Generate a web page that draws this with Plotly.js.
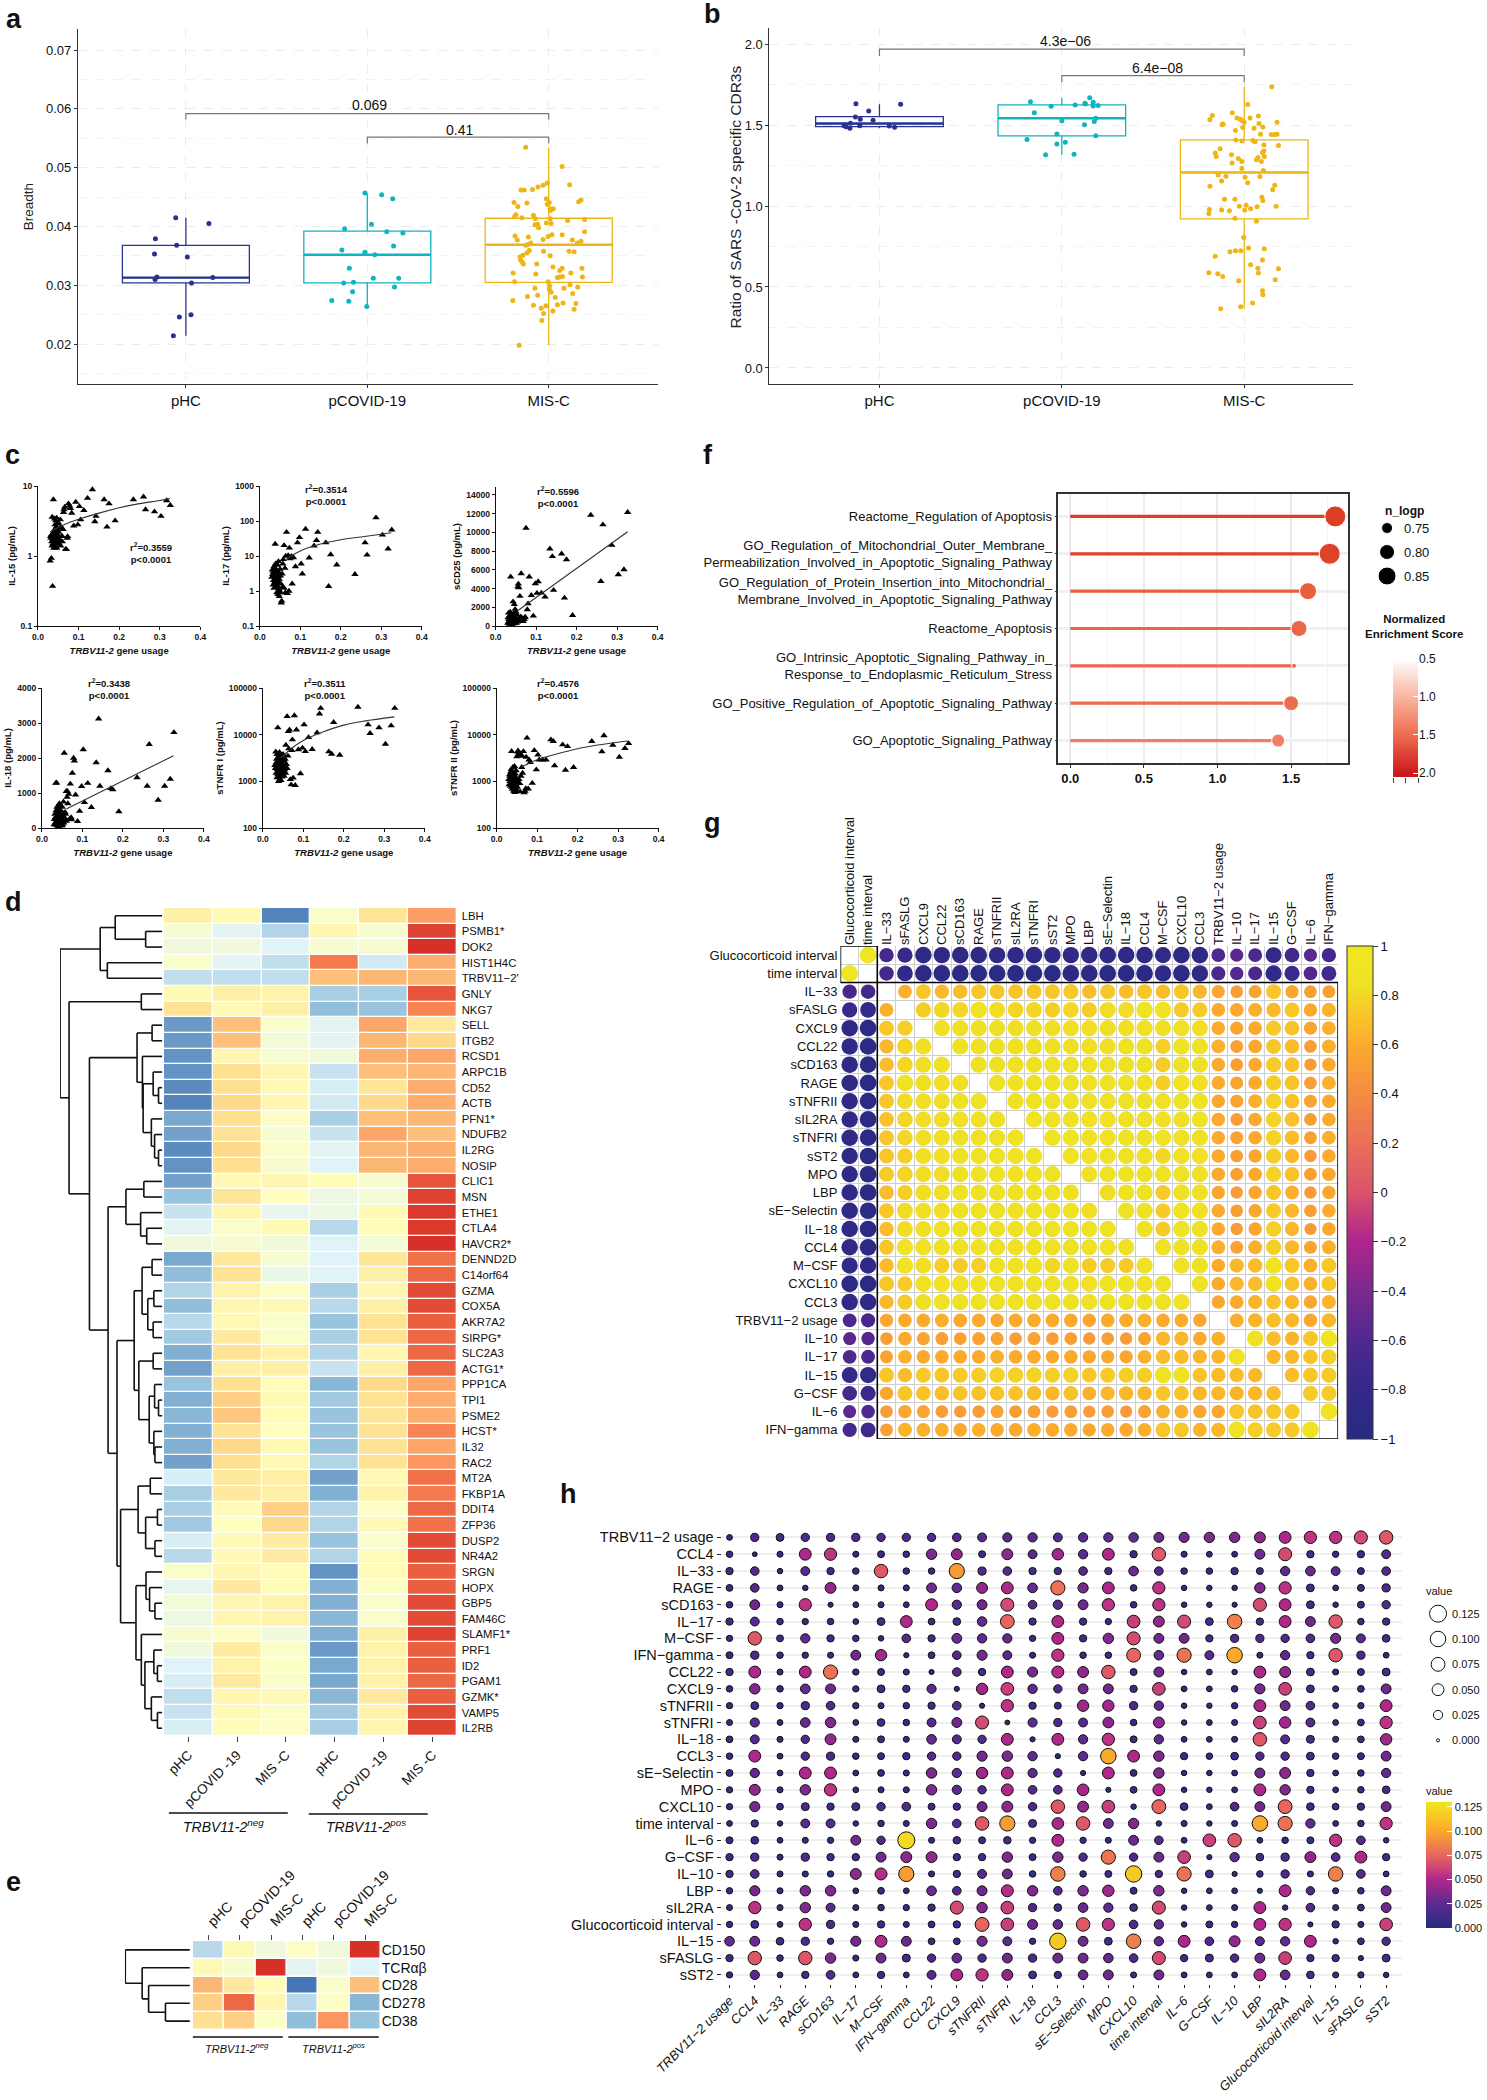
<!DOCTYPE html>
<html><head><meta charset="utf-8">
<script src="https://cdn.plot.ly/plotly-3.0.1.min.js"></script>
<style>html,body{margin:0;padding:0;background:#fff}</style></head>
<body><div id="chart" style="width:1487px;height:2100px"></div>
<script>
// ---------- Panels a, b ----------
const groups=['pHC','pCOVID-19','MIS-C'];
const groupColors=['#27338F','#10B4C0','#EDB515'];
const aBox={q1:[.0304,.0304,.0305],med:[.0313,.0352,.0369],q3:[.0368,.0392,.0414],lo:[.0214,.0264,.0198],hi:[.0415,.0456,.0535]};
const bBox={q1:[1.49,1.433,.921],med:[1.509,1.542,1.207],q3:[1.552,1.624,1.408],lo:[1.48,1.316,.366],hi:[1.628,1.669,1.737]};
const aJit0=[-.056,.127,-.168,-.051,-.173,.008,-.16,-.17,.148,.031,-.036,.028,-.069];
const aVal0=[.0415,.0405,.0379,.0368,.0353,.0348,.0314,.0310,.0313,.0304,.0246,.0250,.0214];
const aJit1=[-.013,.079,.140,.023,-.125,.107,.196,.145,-.140,-.013,.041,-.099,-.130,-.076,.033,.173,-.081,.150,-.196,-.102,-.003];
const aVal1=[.0457,.0454,.0447,.0404,.0396,.0391,.0389,.0367,.0360,.0356,.0352,.0329,.0304,.0305,.0312,.0312,.0289,.0297,.0274,.0273,.0264];
const aJit2=[-.127,.074,.115,-.008,-.031,-.059,-.089,-.135,-.153,.178,.165,-.013,-.120,-.191,.003,-.008,-.170,.025,.008,.010,-.181,-.188,-.148,-.084,-.074,.008,.198,.104,-.013,.013,-.061,-.076,-.056,.198,.074,.018,-.003,-.031,-.112,-.186,-.173,.130,.178,.158,-.099,-.117,-.127,-.107,-.120,-.028,.112,.140,.008,-.142,-.158,-.155,-.145,-.140,-.066,.023,.074,.061,.183,-.196,-.071,.122,.076,.061,.048,.186,-.188,-.003,.117,.005,-.076,.160,.084,.003,.013,.132,-.061,-.117,.036,-.198,.150,.079,.048,-.084,-.015,-.041,.140,.023,-.028,-.038,-.163];
const aVal2=[.0535,.0502,.0471,.0474,.0470,.0467,.0463,.0462,.0462,.0445,.0442,.0447,.0440,.0441,.0441,.0438,.0434,.0430,.0430,.0427,.0420,.0417,.0415,.0419,.0413,.0413,.0412,.0410,.0406,.0405,.0404,.0403,.0398,.0391,.0386,.0386,.0383,.0378,.0382,.0384,.0377,.0377,.0375,.0372,.0372,.0369,.0368,.0359,.0355,.0358,.0358,.0357,.0350,.0351,.0348,.0343,.0339,.0336,.0336,.0331,.0329,.0325,.0329,.0321,.0319,.0321,.0315,.0314,.0313,.0314,.0306,.0306,.0301,.0299,.0295,.0297,.0295,.0293,.0288,.0286,.0283,.0281,.0279,.0274,.0269,.0270,.0267,.0266,.0265,.0261,.0259,.0256,.0252,.0240,.0198];
const bJit0=[-.129,.116,-.059,-.132,-.105,-.035,-.159,-.188,-.183,-.162,-.108,.054,.083,-.194];
const bVal0=[1.632,1.628,1.587,1.550,1.535,1.529,1.511,1.500,1.490,1.480,1.496,1.494,1.486,1.496];
const bJit1=[.153,-.172,-.059,.073,.129,.172,.172,.199,.127,-.151,.186,.178,0,.124,-.027,.186,-.191,.019,-.027,-.089,.067];
const bVal1=[1.669,1.644,1.616,1.624,1.630,1.640,1.618,1.620,1.634,1.575,1.542,1.521,1.527,1.501,1.445,1.433,1.410,1.394,1.383,1.316,1.320];
const bJit2=[.151,.019,-.065,-.175,-.188,.078,.032,-.040,-.022,-.011,0,.180,.081,-.116,-.121,.102,-.008,.054,-.048,.089,.180,.167,.148,-.046,-.013,.048,.059,.108,.188,-.132,.108,-.159,-.070,.100,-.153,.110,.075,-.032,.067,-.013,-.067,.094,-.013,.105,-.143,-.100,.005,.086,-.124,.019,.167,-.188,.156,.097,.102,-.108,-.051,-.027,.011,.175,.070,.035,.003,-.191,-.124,-.081,-.194,-.051,.067,-.003,.024,.110,-.019,-.048,-.078,-.159,.100,.035,.075,.188,-.194,-.145,.078,-.118,-.030,.170,.100,.102,.046,-.019,-.129];
const bVal2=[1.737,1.626,1.575,1.558,1.533,1.556,1.544,1.544,1.535,1.527,1.517,1.517,1.509,1.507,1.501,1.488,1.484,1.480,1.466,1.443,1.443,1.441,1.441,1.408,1.402,1.404,1.396,1.377,1.373,1.353,1.340,1.328,1.316,1.330,1.305,1.305,1.299,1.293,1.285,1.274,1.266,1.274,1.231,1.219,1.192,1.184,1.178,1.182,1.155,1.143,1.128,1.122,1.100,1.054,1.034,1.042,1.042,.999,1.005,.999,.995,.983,.976,.978,.976,.970,.954,.925,.906,.806,.740,.736,.724,.724,.717,.689,.666,.637,.615,.613,.588,.582,.586,.565,.539,.545,.477,.452,.401,.378,.366];

// ---------- Panel c (same patients in all six plots) ----------
const usage=[.326,.317,.303,.287,.265,.26,.235,.19,.175,.17,.163,.143,.14,.134,.122,.113,.105,.102,.098,.093,.088,.083,.08,.078,.075,.073,.07,.066,.063,.06,
 .03,.031,.032,.033,.033,.034,.035,.035,.036,.036,.037,.037,.038,.038,.039,.039,.04,.04,.041,.041,.042,.042,.043,.043,.044,.044,.045,.045,.046,.046,.047,.047,.048,.048,.049,.05,.05,.051,.052,.053,.054,.055,.056,.057,.058,.06,.062,.064,.068,.072];
const il15=[5.3,6.2,3.7,4.3,4.6,7.0,6.4,3.2,5.6,2.6,6.4,3.7,3.1,8.9,6.7,4.5,3.3,5.1,2.8,5.9,2.7,4.1,4.8,5.2,5.6,1.9,1.24,5.0,4.2,1.9,
 .85,1.9,1.8,.93,2.0,1.6,1.4,3.6,.37,1.7,2.1,1.5,1.8,6.4,1.3,2.3,1.6,1.9,3.4,1.5,2.8,1.7,1.4,2.2,3.2,1.6,1.9,2.6,1.3,3.5,1.8,2.4,1.5,2.9,2.0,1.6,3.0,2.2,1.5,2.5,1.7,3.3,1.4,2.6,1.9,1.6,2.4,4.6,1.25,1.8];
const il17=[56,16,40,124,10.7,24,3,5.6,11,1.36,24,48,28,19.5,8.9,59,3.1,6,34,24,5,9,1.6,9.8,8.4,17,10.4,48,.9,20,
 2.5,4,3,1.5,3.5,2,5,1.2,2.8,4.5,1.8,3,22,2.3,1.3,6,2.1,3.2,1.6,4,2.4,.9,3,1.4,5.5,2,.8,2.6,1.7,7,1.1,3.4,.7,2.2,1,4.2,.9,2.7,1.6,.46,.52,3.1,1.3,6,8,1.2,4.5,10,.85,1];
const scd25=[12140,6030,5500,8640,10820,4780,11850,1140,7100,3000,7710,3820,7430,8250,3100,3530,4750,3500,4530,1070,3280,5250,2390,1750,10460,960,710,790,5600,3180,
 300,900,1400,500,700,200,1100,300,600,1500,5250,400,800,1000,200,600,300,1200,700,100,900,500,2600,400,1300,800,250,700,2300,500,1000,300,1800,600,400,900,1500,300,700,1200,450,4200,4500,4100,800,600,1000,700,500,900];
const il18=[2730,1400,1200,800,2390,1200,1440,470,1100,1130,1640,1200,3120,1870,590,1280,730,2240,1190,480,190,950,1920,2000,1570,240,1260,970,1050,1050,
 100,250,400,150,300,1280,500,80,200,1290,600,120,350,450,60,250,150,500,200,40,300,550,100,700,180,400,90,260,650,130,320,80,480,220,60,350,600,100,240,750,150,2140,300,450,400,200,880,700,250,300];
const tnfr1=[37000,15600,6300,14100,10700,16400,39000,3660,18400,3850,4320,37000,28000,11000,4850,8700,4370,16400,5200,1470,4800,12700,820,25700,1180,7800,850,12700,11700,24600,
 2200,1900,4300,1500,2500,3000,1200,3800,1800,2600,14100,1400,2100,3300,1000,2400,1700,2900,1300,4200,1900,1100,3400,2300,1500,2700,1050,3600,1800,2000,2500,1250,3100,1600,2200,1400,3800,2000,1300,2700,1750,3000,1500,6000,2300,1900,3500,5000,1100,4600];
const tnfr2=[6500,5100,3320,6000,9560,4320,7200,2000,5600,1740,6100,2170,7200,7800,2900,2900,2900,3700,1780,4600,910,2560,2900,690,8500,3320,620,4370,3450,3700,
 1100,850,1400,1000,1300,800,1600,900,1200,1800,4400,750,1050,1500,680,1150,950,2000,720,1250,880,620,1350,1000,2100,780,1100,580,1450,900,1200,700,1700,850,620,1000,3400,750,4300,4500,3800,1100,4000,900,600,1300,2000,1500,570,700];
const fit15x=[.03,.05,.08,.1,.15,.2,.25,.3,.325], fit15y=[2.2,2.55,3.05,3.35,4.1,4.9,5.6,6.2,6.6];
const fit17x=[.065,.08,.1,.15,.2,.25,.3,.325], fit17y=[8,10.5,14,22,29,35,42,46];
const fit25x=[.056,.326], fit25y=[1680,10070];
const fit18x=[.06,.325], fit18y=[540,2065];
const fitT1x=[.045,.07,.1,.15,.2,.25,.325], fitT1y=[3200,5000,7500,11500,16000,19500,24000];
const fitT2x=[.06,.1,.15,.2,.25,.3,.325], fitT2y=[2000,2900,3900,5000,6000,6900,7300];

// ---------- Panel f ----------
const pathways=['Reactome_Regulation of Apoptosis','GO_Regulation_of_Mitochondrial_Outer_Membrane_<br>Permeabilization_Involved_in_Apoptotic_Signaling_Pathway','GO_Regulation_of_Protein_Insertion_into_Mitochondrial_<br>Membrane_Involved_in_Apoptotic_Signaling_Pathway','Reactome_Apoptosis','GO_Intrinsic_Apoptotic_Signaling_Pathway_in_<br>Response_to_Endoplasmic_Reticulum_Stress','GO_Positive_Regulation_of_Apoptotic_Signaling_Pathway','GO_Apoptotic_Signaling_Pathway'];
const nes=[1.80,1.762,1.615,1.553,1.52,1.50,1.412];
const fSizes=[21,21,17,16,5,15,13];
const fColors=['#DC3E26','#DF4228','#E8603F','#EB6547','#EC6B50','#ED6D51','#F17F63'];
const nLogpLabels=['0.75','0.80','0.85'], nLogpSizes=[11,15,18];
const fBar=[.48,.5,.6,.7,.8,.9,1,1.1,1.2,1.3,1.4,1.5,1.6,1.7,1.8,1.9,2,2.05];

// ---------- Panel d ----------
const genes=["LBH","PSMB1*","DOK2","HIST1H4C","TRBV11−2'","GNLY","NKG7","SELL","ITGB2","RCSD1","ARPC1B","CD52","ACTB","PFN1*","NDUFB2","IL2RG","NOSIP","CLIC1","MSN","ETHE1","CTLA4","HAVCR2*","DENND2D","C14orf64","GZMA","COX5A","AKR7A2","SIRPG*","SLC2A3","ACTG1*","PPP1CA","TPI1","PSME2","HCST*","IL32","RAC2","MT2A","FKBP1A","DDIT4","ZFP36","DUSP2","NR4A2","SRGN","HOPX","GBP5","FAM46C","SLAMF1*","PRF1","ID2","PGAM1","GZMK*","VAMP5","IL2RB"];
const dCols=['pHC','pCOVID -19','MIS -C','pHC','pCOVID -19','MIS -C'];
const dExpr=[[.5,.2,-2.8,-.2,.8,1.8],[-.3,-.9,-1.6,.3,-.3,2.8],[-.5,-.5,-1,-.3,-.3,3],[-.2,-.9,-1.4,2.2,-1.2,1.6],[-1.4,-1.4,-1.4,1.4,1.5,1.5],[.2,.5,.4,-1.7,-1.7,2.6],[.9,.2,.5,-2,-1.9,2.1],[-2.5,1.4,-.2,-.9,1.7,.7],[-2.5,1.4,-.4,-.9,1.5,1.1],[-2.6,.3,-.3,-.5,1.6,1.7],[-2.6,1,.3,-1.3,1.4,1.5],[-2.7,1,.2,-1.1,.8,1.6],[-2.8,1.1,.3,-1.2,1.1,1.6],[-2.3,1,-.1,-1.7,1.4,1.5],[-2.4,.9,-.3,-1.3,1.7,1.4],[-2.7,1.1,-.2,-.9,1.5,1.6],[-2.6,1,-.3,-1,1.5,1.6],[-2.4,.2,.3,.1,-.3,2.6],[-1.9,.8,0,-.6,-.4,2.8],[-1.3,.3,-.8,-.6,.2,2.9],[-.9,-.2,.2,-1.5,.1,2.9],[-.5,-.3,-.5,-1,-.4,3],[-2.3,.7,-.3,-1,.8,2.3],[-2,.9,-.7,-1,.5,2.4],[-1.6,.4,-.1,-1.7,.3,2.7],[-2,.3,.2,-1.5,.5,2.7],[-1.5,.2,-.2,-1.9,.9,2.5],[-1.8,.7,-.2,-1.7,.9,2.4],[-2.2,.9,.4,-1.6,.3,2.4],[-2.4,.5,.5,-1.3,.5,2.4],[-1.9,1,.1,-2.1,1.1,1.7],[-2.2,1.2,.2,-1.8,.9,1.6],[-2.1,1.3,.1,-1.9,.8,1.6],[-2.2,.9,0,-1.9,.9,2.1],[-2.2,1.1,.2,-1.9,.9,1.7],[-2.4,1,.2,-1.6,.9,1.9],[-1.1,.7,.5,-2.4,.2,2.3],[-1.7,.7,.5,-2.2,.4,2.2],[-1.7,.1,1.2,-1.6,-.1,2.4],[-1.8,0,1.1,-1.6,.2,2.3],[-1.1,.2,.6,-1.9,-.2,2.7],[-1.5,.2,.6,-1.6,.1,2.7],[-.2,.3,.1,-2.6,.1,2.5],[-.8,.7,.1,-2.2,-.1,2.5],[-.4,.3,.4,-2.2,-.2,2.7],[-.6,.3,.4,-2.1,-.2,2.7],[-.3,-.1,-.5,-2.2,.5,2.8],[-.5,.6,-.2,-2.5,.4,2.5],[-1,.4,-.1,-2.3,.4,2.5],[-1.1,.7,-.2,-2.3,.4,2.4],[-1.4,.3,.2,-2.1,.7,2.5],[-1.3,.2,-.1,-1.8,.4,2.7],[-1.1,.1,-.1,-1.7,.3,2.8]];
const dTree=[168,
 [280,[322,0,[407,1,2]],[300,3,4]],
 [193,[395,5,6],
  [250,
   [383,[425,7,8],[398,9,[400,[428,10,[443,11,12]],[423,13,[432,14,[443,15,16]]]]]],
   [302,
    [352,[402,17,18],[393,19,[410,20,21]]],
    [327,
     [375,
      [397,[425,22,23],[413,[430,24,25],[428,26,27]]],
      [388,[428,28,29],[417,[432,30,[443,31,32]],[430,33,[433,34,35]]]]],
     [337,
      [386,[420,36,37],[407,[440,38,39],[433,40,41]]],
      [380,[408,42,[418,43,[433,44,45]]],[395,46,[405,[430,47,[440,48,49]],[423,50,[440,51,52]]]]]]]]]]];

// ---------- Panel e ----------
const markers=['CD150','TCRαβ','CD28','CD278','CD38'];
const eCols=['pHC','pCOVID-19','MIS-C','pHC','pCOVID-19','MIS-C'];
const eExpr=[[-1.5,.2,-.5,-.1,-.5,3],[.2,-.3,3,-.9,-.5,-1],[1.5,.7,.1,-3,-.2,1.4],[1.2,2.4,.3,-1.5,-.1,-2.1],[1,1.2,-.1,-2,1.9,-1.9]];
const eTree=[350,0,[397,1,[415,2,[462,3,4]]]];

// ---------- Panel g ----------
const gVars=['Glucocorticoid interval','time interval','IL−33','sFASLG','CXCL9','CCL22','sCD163','RAGE','sTNFRII','sIL2RA','sTNFRI','sST2','MPO','LBP','sE−Selectin','IL−18','CCL4','M−CSF','CXCL10','CCL3','TRBV11−2 usage','IL−10','IL−17','IL−15','G−CSF','IL−6','IFN−gamma'];
const gLower=[[],[92],[-67,-68],[-75,-80,62],[-88,-90,72,76],[-87,-90,66,80,84],[-88,-90,68,80,84,86],[-88,-90,72,88,84,84,84],[-87,-90,72,82,84,84,86,86],[-87,-90,70,80,84,84,85,85,86],[-88,-90,72,80,84,84,85,85,86,87],[-87,-90,72,76,84,84,85,85,86,86,87],[-86,-90,74,80,84,83,85,85,86,86,87,86],[-88,-90,68,75,84,84,85,85,86,86,86,85,84],[-88,-90,72,82,84,84,85,85,86,86,86,85,85,82],[-88,-90,68,82,84,85,85,86,86,86,86,86,85,85,86],[-88,-90,72,88,86,86,86,86,86,86,86,86,86,85,85,86],[-85,-87,68,88,84,76,74,76,86,86,88,80,86,74,74,74,86],[-90,-90,72,74,86,88,88,88,86,86,86,86,86,86,87,89,86,86],[-88,-88,66,74,84,86,86,86,86,86,86,86,86,86,86,86,86,86,85],
[-62,-65,57,60,60,62,60,60,58,60,60,60,60,58,60,60,62,60,60,58],
[-55,-58,52,60,56,54,53,55,55,52,55,52,53,50,52,50,55,66,65,60,62],
[-62,-63,55,62,60,60,60,60,62,60,60,58,60,58,58,58,62,68,68,64,64,85],
[-82,-85,72,67,74,72,74,75,78,78,78,76,78,72,74,76,76,88,85,70,68,68,66],
[-70,-75,58,72,70,68,70,70,70,70,68,66,70,62,65,66,66,72,70,66,65,64,66,68],
[-55,-60,52,58,56,52,50,52,55,52,53,50,53,50,52,48,55,62,62,58,58,72,70,72,74],
[-66,-72,54,64,62,62,60,62,60,60,62,60,60,58,60,60,62,72,72,64,66,88,76,74,74,90]];
const gTicks=[-1,-.8,-.6,-.4,-.2,0,.2,.4,.6,.8,1], gTickText=['−1','−0.8','−0.6','−0.4','−0.2','0','0.2','0.4','0.6','0.8','1'];

// ---------- Panel h ----------
const hVars=['TRBV11−2 usage','CCL4','IL−33','RAGE','sCD163','IL−17','M−CSF','IFN−gamma','CCL22','CXCL9','sTNFRII','sTNFRI','IL−18','CCL3','sE−Selectin','MPO','CXCL10','time interval','IL−6','G−CSF','IL−10','LBP','sIL2RA','Glucocorticoid interval','IL−15','sFASLG','sST2'];
const hVals=[
[.005,.017,.015,.018,.017,.017,.018,.018,.018,.02,.022,.024,.025,.022,.025,.025,.027,.03,.032,.035,.035,.04,.05,.055,.055,.065,.07],
[.008,.002,.006,.05,.055,.006,.01,.008,.035,.04,.01,.04,.022,.045,.025,.05,.012,.07,.006,.005,.005,.03,.065,.012,.007,.012,.022],
[.012,.02,.004,.022,.012,.008,.07,.008,.008,.095,.017,.02,.012,.012,.02,.012,.028,.02,.008,.008,.012,.01,.025,.028,.022,.01,.02],
[.009,.02,.005,.004,.04,.006,.006,.006,.03,.027,.04,.05,.028,.08,.033,.05,.008,.055,.004,.004,.004,.035,.055,.015,.005,.01,.017],
[.008,.03,.006,.055,.003,.005,.006,.005,.05,.025,.03,.065,.02,.025,.03,.055,.008,.055,.004,.004,.003,.065,.05,.015,.004,.01,.018],
[.012,.022,.008,.007,.008,.005,.015,.05,.009,.014,.027,.075,.012,.05,.012,.007,.06,.04,.065,.015,.085,.012,.05,.03,.07,.008,.012],
[.007,.07,.01,.025,.012,.008,.004,.02,.012,.03,.025,.025,.007,.05,.012,.035,.065,.03,.03,.012,.017,.017,.018,.02,.032,.022,.014],
[.01,.017,.008,.007,.006,.03,.045,.003,.009,.02,.032,.022,.006,.055,.008,.008,.075,.027,.08,.022,.1,.006,.025,.012,.07,.017,.005],
[.012,.05,.006,.05,.08,.007,.01,.006,.003,.02,.012,.05,.032,.052,.04,.07,.01,.03,.004,.005,.004,.05,.04,.015,.006,.01,.015],
[.008,.035,.008,.028,.03,.007,.015,.012,.024,.003,.045,.06,.025,.018,.03,.03,.012,.06,.005,.005,.008,.032,.06,.015,.006,.009,.03],
[.007,.015,.007,.017,.02,.007,.006,.008,.012,.02,.003,.055,.012,.01,.045,.045,.017,.025,.004,.004,.007,.05,.03,.02,.005,.007,.05],
[.006,.024,.005,.028,.035,.005,.014,.008,.022,.03,.065,.002,.024,.017,.022,.038,.008,.04,.004,.005,.006,.06,.045,.022,.005,.009,.055],
[.009,.022,.006,.018,.04,.006,.01,.006,.028,.022,.018,.05,.003,.05,.025,.055,.01,.025,.005,.005,.006,.07,.022,.016,.006,.009,.045],
[.008,.05,.005,.018,.017,.008,.01,.012,.018,.018,.032,.035,.025,.003,.025,.1,.05,.035,.012,.008,.014,.018,.018,.015,.008,.01,.03],
[.01,.025,.005,.05,.05,.005,.009,.006,.035,.025,.045,.05,.024,.018,.003,.05,.009,.035,.004,.004,.005,.03,.04,.012,.005,.008,.025],
[.007,.04,.006,.035,.055,.005,.006,.006,.035,.025,.018,.05,.02,.02,.048,.003,.009,.05,.004,.004,.005,.05,.035,.012,.005,.008,.014],
[.007,.032,.009,.016,.012,.016,.018,.02,.01,.012,.03,.04,.018,.07,.04,.06,.004,.075,.014,.005,.02,.03,.075,.014,.009,.012,.03],
[.005,.012,.004,.022,.022,.004,.008,.006,.035,.02,.07,.095,.016,.048,.07,.03,.035,.004,.006,.004,.006,.1,.08,.025,.005,.008,.055],
[.01,.014,.005,.006,.007,.03,.018,.125,.006,.013,.01,.013,.007,.05,.007,.006,.03,.02,.005,.06,.07,.005,.008,.01,.055,.02,.004],
[.012,.017,.006,.017,.012,.012,.03,.04,.04,.012,.012,.035,.01,.035,.018,.08,.018,.03,.06,.003,.025,.014,.017,.04,.02,.05,.012],
[.012,.02,.006,.006,.007,.04,.052,.095,.006,.012,.022,.03,.008,.085,.008,.01,.115,.012,.08,.015,.003,.008,.018,.006,.085,.02,.005],
[.007,.032,.006,.035,.035,.005,.009,.005,.028,.02,.03,.052,.035,.02,.035,.045,.01,.035,.004,.005,.005,.003,.05,.018,.006,.008,.03],
[.006,.055,.006,.035,.022,.006,.008,.007,.012,.065,.035,.06,.017,.014,.028,.025,.014,.065,.004,.005,.006,.05,.004,.02,.006,.009,.03],
[.007,.015,.005,.055,.017,.006,.012,.006,.009,.012,.075,.06,.03,.027,.07,.055,.02,.025,.004,.01,.007,.05,.055,.003,.012,.006,.06],
[.028,.03,.014,.017,.007,.032,.05,.03,.009,.009,.032,.022,.007,.115,.03,.015,.085,.025,.05,.02,.04,.022,.025,.05,.004,.009,.018],
[.012,.07,.008,.07,.035,.006,.03,.016,.018,.028,.018,.03,.017,.03,.03,.027,.02,.065,.012,.016,.018,.03,.06,.012,.012,.003,.015],
[.007,.025,.005,.012,.02,.005,.012,.005,.022,.05,.055,.04,.015,.012,.028,.03,.006,.03,.005,.005,.005,.05,.028,.014,.006,.007,.004]];
const hLegendVals=[.125,.1,.075,.05,.025,0], hLegendText=['0.125','0.100','0.075','0.050','0.025','0.000'];

// ---------- Scales / styles ----------
const W=1487,H=2100;
const FONT='"Liberation Sans", Arial, sans-serif';
const heatScale=[[0,'#4575B4'],[1/6,'#91BFDB'],[2/6,'#E0F3F8'],[.5,'#FFFFBF'],[4/6,'#FEE090'],[5/6,'#FC8D59'],[1,'#D73027']];
const plasma=[[0,'#272B80'],[.1,'#33298A'],[.2,'#50288E'],[.3,'#7A2990'],[.4,'#AE248C'],[.5,'#D9536B'],[.6,'#EA7058'],[.7,'#F48C41'],[.8,'#FBAA2E'],[.85,'#F8C22A'],[.925,'#EFE225'],[1,'#EFE81F']];
const hScale=[[0,'#272B80'],[.19,'#5C2A90'],[.385,'#B0278B'],[.577,'#E8655F'],[.77,'#F9A92C'],[.96,'#F3DC20'],[1,'#EFE81F']];
const GRID='#ececec';

const data=[];
const layout={width:W,height:H,autosize:false,margin:{l:0,r:0,t:0,b:0},showlegend:false,paper_bgcolor:'#fff',plot_bgcolor:'rgba(0,0,0,0)',
 font:{family:FONT,color:'#111',size:12},boxmode:'overlay',annotations:[],shapes:[]};

function place(id,x0,x1,y0,y1,xo,yo){
 const s=id===1?'':String(id);
 layout['xaxis'+s]=Object.assign({domain:[x0/W,x1/W],anchor:'y'+s,showgrid:false,zeroline:false,automargin:false,fixedrange:true},xo);
 layout['yaxis'+s]=Object.assign({domain:[1-y1/H,1-y0/H],anchor:'x'+s,showgrid:false,zeroline:false,automargin:false,fixedrange:true},yo);
 return {xaxis:'x'+s,yaxis:'y'+s};
}
function txt(x,y,text,o){layout.annotations.push(Object.assign({xref:'paper',yref:'paper',x:x/W,y:1-y/H,text:text,showarrow:false,xanchor:'center',yanchor:'middle',font:{size:12}},o||{}));}
function hline(x0,x1,y,w){layout.shapes.push({type:'line',xref:'paper',yref:'paper',x0:x0/W,x1:x1/W,y0:1-y/H,y1:1-y/H,line:{color:'#111',width:w}});}

// Panel letters
[['a',14,19],['b',713,14],['c',13,455],['d',14,902],['e',14,1882],['f',708,455],['g',713,823],['h',569,1494]].forEach(l=>txt(l[1],l[2],l[0],{font:{size:27,weight:'bold',color:'#111'}}));

// ---------- a, b ----------
function boxPanel(id,x0,x1,y0,y1,xr,yr,dt,minor,tf,box,jit,val,title,tsize,standoff,br,notes){
 const yo={range:yr,dtick:dt,tick0:0,tickformat:tf,tickfont:{size:13,color:'#111'},showline:true,linecolor:'#333',linewidth:1.2,ticks:'outside',ticklen:3,tickcolor:'#333',showgrid:true,gridcolor:GRID,griddash:'dash',gridwidth:1,
   minor:{dtick:minor,tick0:0,showgrid:true,gridcolor:'#f2f2f2',griddash:'dash',ticks:''}};
 if(title)yo.title={text:title,font:{size:tsize,color:'#222'},standoff:standoff};
 const ax=place(id,x0,x1,y0,y1,
  {range:xr,tickvals:[0,1,2],ticktext:groups,tickfont:{size:15,color:'#111'},showline:true,linecolor:'#333',linewidth:1.2,ticks:'outside',ticklen:3,tickcolor:'#333',showgrid:true,gridcolor:GRID,griddash:'dash',gridwidth:1},yo);
 groups.forEach((g,i)=>{
  data.push(Object.assign({type:'box',x:[i],q1:[box.q1[i]],median:[box.med[i]],q3:[box.q3[i]],lowerfence:[box.lo[i]],upperfence:[box.hi[i]],width:.7,whiskerwidth:0,fillcolor:'rgba(0,0,0,0)',line:{color:groupColors[i],width:1.3},boxpoints:false,hoverinfo:'skip'},ax));
  data.push(Object.assign({type:'scatter',mode:'lines',x:[i-.35,i+.35],y:[box.med[i],box.med[i]],line:{color:groupColors[i],width:2.4},hoverinfo:'skip'},ax));
  data.push(Object.assign({type:'scatter',mode:'markers',x:jit[i].map(j=>i+j),y:val[i],marker:{color:groupColors[i],size:5},hoverinfo:'skip'},ax));
 });
 br.forEach(b=>data.push(Object.assign({type:'scatter',mode:'lines',x:[b[0],b[0],2,2],y:[b[2],b[1],b[1],b[2]],line:{color:'#777',width:1.2},hoverinfo:'skip'},ax)));
 notes.forEach(n=>layout.annotations.push({xref:ax.xaxis,yref:ax.yaxis,x:n[0],y:n[1],text:n[2],showarrow:false,font:{size:14,color:'#111'}}));
}
boxPanel(1,78,658,29,384,[-.595,2.6],[.0132,.0736],.01,.005,'.2f',aBox,[aJit0,aJit1,aJit2],[aVal0,aVal1,aVal2],'Breadth',13.5,9,
 [[0,.0592,.0582],[1,.0552,.0541]],[[1.01,.0606,'0.069'],[1.51,.0565,'0.41']]);
boxPanel(2,770,1354,28,384,[-.603,2.597],[-.099,2.099],.5,.25,'.1f',bBox,[bJit0,bJit1,bJit2],[bVal0,bVal1,bVal2],null,0,0,
 [[0,1.969,1.926],[1,1.805,1.764]],[[1.02,2.016,'4.3e−06'],[1.525,1.852,'6.4e−08']]);
txt(736,197,'Ratio of SARS -CoV-2 specific CDR3s',{textangle:-90,font:{size:15.5,color:'#222'}});

// ---------- c ----------
function scatPanel(id,x0,x1,y0,y1,yo,vals,fx,fy,title,note,nx,ny){
 const tf={size:8.5,weight:'bold',color:'#111'};
 const ax=place(id,x0,x1,y0,y1,
  {range:[0,.4],dtick:.1,tick0:0,tickformat:'.1f',tickfont:tf,showline:true,linecolor:'#111',linewidth:1.1,ticks:'outside',ticklen:3,tickcolor:'#111',
   title:{text:'<i>TRBV11-2</i> gene usage',font:{size:9.5,weight:'bold'},standoff:6}},
  Object.assign({tickfont:tf,showline:true,linecolor:'#111',linewidth:1.1,ticks:'outside',ticklen:3,tickcolor:'#111',title:{text:title,font:{size:9.5,weight:'bold'},standoff:3}},yo));
 data.push(Object.assign({type:'scatter',mode:'markers',x:usage,y:vals,cliponaxis:false,marker:{symbol:'triangle-up',size:6.5,color:'#000'},hoverinfo:'skip'},ax));
 data.push(Object.assign({type:'scatter',mode:'lines',x:fx,y:fy,line:{color:'#333',width:1.1,shape:'spline'},hoverinfo:'skip'},ax));
 txt(nx,ny,note,{font:{size:9.5,weight:'bold',color:'#111'},align:'center'});
}
scatPanel(3,38,200.5,486,626,{type:'log',range:[-1,1],tickvals:[.1,1,10],ticktext:['0.1','1','10']},il15,fit15x,fit15y,'IL-15 (pg/mL)','r<sup>2</sup>=0.3559<br>p<0.0001',151,553);
scatPanel(4,260,422,486,626,{type:'log',range:[-1,3],tickvals:[.1,1,10,100,1000],ticktext:['0.1','1','10','100','1000']},il17,fit17x,fit17y,'IL-17 (pg/mL)','r<sup>2</sup>=0.3514<br>p<0.0001',327,495);
scatPanel(5,496,658,487,626,{range:[0,14850],dtick:2000,tick0:0,tickformat:'d'},scd25,fit25x,fit25y,'sCD25 (pg/mL)','r<sup>2</sup>=0.5596<br>p<0.0001',558,497);
scatPanel(6,42,204,688,828,{range:[0,4000],dtick:1000,tick0:0,tickformat:'d'},il18,fit18x,fit18y,'IL-18 (pg/mL)','r<sup>2</sup>=0.3438<br>p<0.0001',109,689);
scatPanel(7,263,425,688,828,{type:'log',range:[2,5],tickvals:[100,1000,10000,100000],ticktext:['100','1000','10000','100000']},tnfr1,fitT1x,fitT1y,'sTNFR I (pg/mL)','r<sup>2</sup>=0.3511<br>p<0.0001',325,689);
scatPanel(8,497,659,688,828,{type:'log',range:[2,5],tickvals:[100,1000,10000,100000],ticktext:['100','1000','10000','100000']},tnfr2,fitT2x,fitT2y,'sTNFR II (pg/mL)','r<sup>2</sup>=0.4576<br>p<0.0001',558,689);

// ---------- f ----------
const fAx=place(9,1059,1349,494,763,
 {range:[-.081,1.887],dtick:.5,tick0:0,tickformat:'.1f',showgrid:true,gridcolor:'#ebebeb',gridwidth:2,minor:{dtick:.25,tick0:0,showgrid:true,gridcolor:'#f3f3f3',gridwidth:1,ticks:''},
  showline:true,mirror:true,linecolor:'#333',linewidth:1.5,ticks:'outside',ticklen:3,tickcolor:'#333',tickfont:{size:13,weight:'bold',color:'#111'}},
 {range:[6.6,-.6],tickvals:[0,1,2,3,4,5,6],ticktext:pathways,showgrid:true,gridcolor:'#f0f0f0',gridwidth:2.5,showline:true,mirror:true,linecolor:'#333',linewidth:1.5,ticks:'outside',ticklen:2,tickcolor:'#333',tickfont:{size:13,color:'#111'}});
pathways.forEach((p,i)=>data.push(Object.assign({type:'scatter',mode:'lines+markers',x:[0,nes[i]],y:[i,i],line:{color:fColors[i],width:3.2},marker:{size:[0,fSizes[i]],color:fColors[i],opacity:1},cliponaxis:false,hoverinfo:'skip'},fAx)));
const fLeg=place(10,1372,1404,516,588,{range:[-1,1],showticklabels:false},{type:'category',range:[2.5,-.5],side:'right',tickfont:{size:13,color:'#111'},ticklen:0});
data.push(Object.assign({type:'scatter',mode:'markers',x:nLogpLabels.map(()=>0),y:nLogpLabels,marker:{size:nLogpSizes,color:'#000',opacity:1},hoverinfo:'skip'},fLeg));
txt(1405,511,'n_logp',{font:{size:12,weight:'bold',color:'#111'}});
txt(1415,626,'Normalized<br>Enrichment Score',{font:{size:11.5,weight:'bold',color:'#111'}});
const fBarAx=place(11,1394,1419,657,777,{range:[0,1],showticklabels:false},{range:[2.05,.48],side:'right',tickvals:[.5,1,1.5,2],ticktext:['0.5','1.0','1.5','2.0'],tickfont:{size:12,color:'#111'},ticks:'inside',tickcolor:'#fff',ticklen:5});
data.push(Object.assign({type:'heatmap',x:[0,1],y:fBar,z:fBar.map(v=>[v,v]),zsmooth:'best',zmin:.5,zmax:2,colorscale:[[0,'#FFFFFF'],[.33,'#F9B5A0'],[.67,'#EE6A4E'],[1,'#CB181D']],showscale:false,hoverinfo:'skip'},fBarAx));

// ---------- d, e ----------
function treeLines(tree,leafX){
 const xs=[],ys=[];
 (function walk(n){
  if(typeof n==='number')return {x:leafX,y:n};
  const kids=n.slice(1).map(walk);
  const h=n[0],yy=kids.map(k=>k.y),lo=Math.min(...yy),hi=Math.max(...yy);
  kids.forEach(k=>{xs.push(h,k.x,null);ys.push(k.y,k.y,null);});
  xs.push(h,h,null);ys.push(lo,hi,null);
  return {x:h,y:(lo+hi)/2};
 })(tree);
 return {x:xs,y:ys};
}
const dHeat=place(12,164,457,908,1736,
 {range:[-.5,5.5],tickvals:[0,1,2,3,4,5],ticktext:dCols,tickangle:-45,tickfont:{size:13.5,color:'#111'}},
 {type:'category',range:[52.5,-.5],categoryorder:'array',categoryarray:genes,side:'right',tickfont:{size:11.3,color:'#111'},dtick:1,ticks:'',ticklabelstandoff:4});
data.push(Object.assign({type:'heatmap',x:[0,1,2,3,4,5],y:genes,z:dExpr,zmin:-3,zmax:3,colorscale:heatScale,showscale:false,xgap:1.3,ygap:1.3,hoverinfo:'skip'},dHeat));
const dDen=place(13,60,164,908,1736,{range:[167.6,458],showticklabels:false},{range:[52.5,-.5],showticklabels:false});
data.push(Object.assign({type:'scatter',mode:'lines',line:{color:'#111',width:1.6},hoverinfo:'skip'},treeLines(dTree,453),dDen));
hline(169,288,1813,1.5);hline(309,428,1814,1.5);
txt(224,1826,'<i>TRBV11-2<sup>neg</sup></i>',{font:{size:14,color:'#111'}});
txt(366,1826,'<i>TRBV11-2<sup>pos</sup></i>',{font:{size:14,color:'#111'}});

const eHeat=place(14,193,381,1941,2030,
 {range:[-.5,5.5],side:'top',tickvals:[0,1,2,3,4,5],ticktext:eCols,tickangle:-45,tickfont:{size:14,color:'#111'}},
 {type:'category',range:[4.5,-.5],categoryorder:'array',categoryarray:markers,side:'right',tickfont:{size:14,color:'#111'},ticks:''});
data.push(Object.assign({type:'heatmap',x:[0,1,2,3,4,5],y:markers,z:eExpr,zmin:-3,zmax:3,colorscale:heatScale,showscale:false,xgap:1.5,ygap:1.5,hoverinfo:'skip'},eHeat));
const eDen=place(15,125,190,1941,2030,{range:[349,530],showticklabels:false},{range:[4.5,-.5],showticklabels:false});
data.push(Object.assign({type:'scatter',mode:'lines',line:{color:'#111',width:1.6},hoverinfo:'skip'},treeLines(eTree,530),eDen));
hline(193,283,2037,1.5);hline(288.5,379,2037,1.5);
txt(237,2048,'<i>TRBV11-2<sup>neg</sup></i>',{font:{size:11,color:'#111'}});
txt(334,2048,'<i>TRBV11-2<sup>pos</sup></i>',{font:{size:11,color:'#111'}});

// ---------- g ----------
const gAxX={type:'category',categoryorder:'array',categoryarray:gVars,range:[-.5,26.5],tickson:'boundaries',showgrid:true,gridcolor:'#cfcfcf',gridwidth:1,side:'top',tickangle:-90,tickfont:{size:13,color:'#111'},ticks:'',dtick:1};
const gAxY={type:'category',categoryorder:'array',categoryarray:gVars,range:[26.5,-.5],tickson:'boundaries',showgrid:true,gridcolor:'#cfcfcf',gridwidth:1,tickfont:{size:13,color:'#111'},ticks:'',dtick:1,ticklabelstandoff:2};
const gAx=place(16,841,1339,946,1439,gAxX,gAxY);
const gx=[],gy=[],gc=[],gs=[];
gLower.forEach((row,i)=>row.forEach((v,j)=>{
 [[j,i],[i,j]].forEach(p=>{gx.push(gVars[p[0]]);gy.push(gVars[p[1]]);gc.push(v/100);gs.push(17.6*Math.sqrt(Math.abs(v)/100));});
}));
data.push(Object.assign({type:'scatter',mode:'markers',x:gx,y:gy,hoverinfo:'skip',marker:{size:gs,color:gc,opacity:1,cmin:-1,cmax:1,colorscale:plasma,line:{width:0},showscale:true,
 colorbar:{thickness:26,thicknessmode:'pixels',len:493,lenmode:'pixels',x:1347/W,xref:'paper',xanchor:'left',y:1-946/H,yref:'paper',yanchor:'top',xpad:0,ypad:0,outlinewidth:1,outlinecolor:'#333',tickvals:gTicks,ticktext:gTickText,ticks:'outside',ticklen:5,tickcolor:'#333',tickfont:{size:13,color:'#111'}}}},gAx));
layout.shapes.push({type:'rect',xref:'x16',yref:'y16',x0:-.5,x1:1.5,y0:-.5,y1:1.5,line:{color:'#000',width:1.6}});
layout.shapes.push({type:'rect',xref:'x16',yref:'y16',x0:1.5,x1:26.5,y0:1.5,y1:26.5,line:{color:'#000',width:1.6}});

// ---------- h ----------
const hSize=v=>3+14*Math.sqrt(v/.125);
const hAx=place(17,722,1403,1529,1984,
 {type:'category',categoryorder:'array',categoryarray:hVars,range:[-.317,26.63],showgrid:false,tickangle:-45,tickfont:{size:13,style:'italic',color:'#111'},ticks:'outside',ticklen:3,tickcolor:'#222',dtick:1},
 {type:'category',categoryorder:'array',categoryarray:hVars,range:[26.54,-.5],showgrid:true,gridcolor:'#efefef',gridwidth:2,tickfont:{size:14.5,color:'#111'},ticks:'outside',ticklen:4,tickcolor:'#222',dtick:1});
const hx=[],hy=[],hc=[],hs=[];
hVals.forEach((row,i)=>row.forEach((v,j)=>{hx.push(hVars[j]);hy.push(hVars[i]);hc.push(v);hs.push(hSize(v));}));
data.push(Object.assign({type:'scatter',mode:'markers',x:hx,y:hy,hoverinfo:'skip',marker:{size:hs,color:hc,opacity:1,cmin:0,cmax:.13,colorscale:hScale,line:{color:'#111',width:1},showscale:true,
 colorbar:{thickness:26,thicknessmode:'pixels',len:126,lenmode:'pixels',x:1426/W,xref:'paper',xanchor:'left',y:1-1802/H,yref:'paper',yanchor:'top',xpad:0,ypad:0,outlinewidth:0,tickvals:hLegendVals,ticktext:hLegendText,ticks:'inside',ticklen:5,tickcolor:'#fff',tickfont:{size:11,color:'#111'}}}},hAx));
const hLeg=place(18,1426,1452,1601,1753,{range:[-1,1],showticklabels:false},{type:'category',range:[5.5,-.5],side:'right',tickfont:{size:11,color:'#111'},ticks:''});
data.push(Object.assign({type:'scatter',mode:'markers',x:hLegendText.map(()=>0),y:hLegendText,marker:{size:hLegendVals.map(hSize),color:'#fff',opacity:1,line:{color:'#111',width:1}},hoverinfo:'skip'},hLeg));
txt(1440,1591,'value',{font:{size:11,color:'#111'}});
txt(1440,1791,'value',{font:{size:11,color:'#111'}});

Plotly.newPlot('chart',data,layout,{displayModeBar:false,responsive:false});
</script></body></html>
